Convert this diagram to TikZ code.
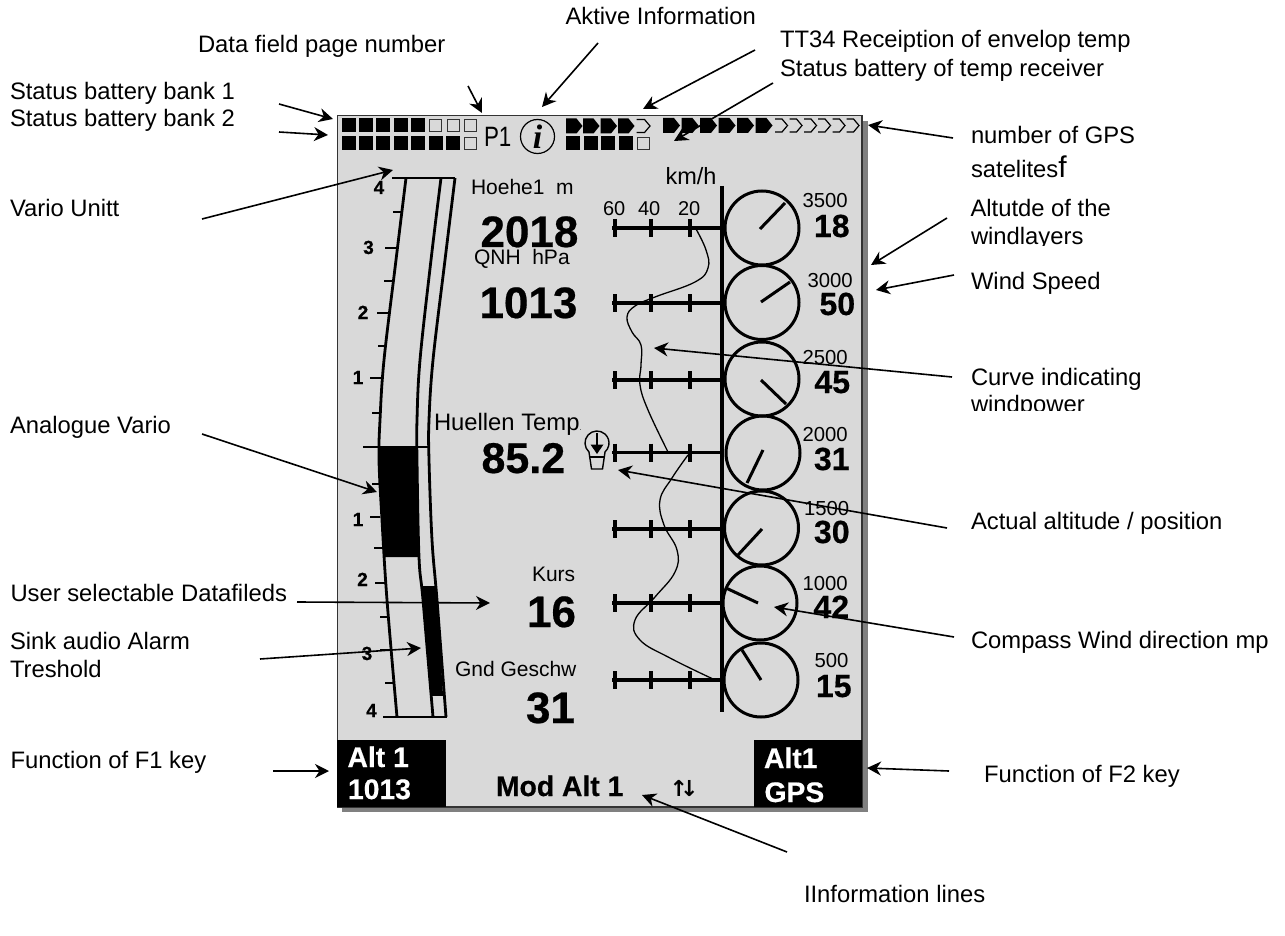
\documentclass[tikz,border=0pt]{standalone}
\usepackage{fontspec}
\setmainfont[BoldFeatures={FakeBold=0.5}]{Liberation Sans}
\newfontfamily\serifi{Liberation Serif}
\newfontfamily\arrowfont{DejaVu Sans}
\usetikzlibrary{arrows.meta}
\definecolor{lcd}{HTML}{D9D9D9}
\definecolor{shadowgray}{HTML}{808080}
\tikzset{
  txt/.style={anchor=base west,inner sep=0pt,outer sep=0pt,text=black},
  lab/.style={txt,font=\fontsize{23.8}{26}\selectfont},
  small/.style={txt,font=\fontsize{20}{22}\selectfont},
  smallb/.style={txt,font=\fontsize{21}{23}\selectfont},
  tiny/.style={txt,font=\fontsize{20.3}{22}\selectfont},
  big/.style={txt,font=\fontsize{44}{46}\selectfont\bfseries},
  mid/.style={txt,font=\fontsize{32}{34}\selectfont\bfseries},
  key/.style={txt,font=\fontsize{28.3}{30}\selectfont\bfseries},
  vnum/.style={anchor=base,inner sep=0pt,outer sep=0pt,font=\fontsize{19}{20}\selectfont\bfseries},
  thick line/.style={line width=2.8pt,black},
  callout/.style={line width=1.6pt,black,-{Stealth[length=14pt,width=14pt,inset=4.5pt]}},
  dial/.style={draw=black,line width=3pt,circle,minimum size=74pt,inner sep=0pt,outer sep=0pt},
  curve/.style={line width=1.3pt,black,smooth,tension=0.7},
  vtick/.style={line width=1.6pt,black},
  vline/.style={line width=2.8pt,smooth,tension=0.6},
}
\begin{document}
\begin{tikzpicture}[x=1pt,y=-1pt]
\useasboundingbox (0,0) rectangle (1285,936);
% display
\fill[shadowgray] (342,121) rectangle (867.5,812);
\draw[fill=lcd,draw=black!80,line width=1.2pt] (337.5,115.5) rectangle (862,807);
% status squares
\foreach \x in {341.5,358.5,376,393.5,411} \fill (\x,118.5) rectangle ++(14,14);
\foreach \x in {429.5,447,464.5} \draw[line width=1pt,draw=black!80] (\x,119.5) rectangle ++(12,12);
\foreach \x in {341.5,358.5,376,393.5,411,428.5,446} \fill (\x,136.5) rectangle ++(14,14);
\draw[line width=1pt,draw=black!80] (464.5,137.5) rectangle ++(12,12);
\foreach \x in {566,583,600.5,618} \fill (\x,118.5) -- ++(10.5,0) -- ++(6,7.5) -- ++(-6,7.5) -- ++(-10.5,0) -- cycle;
\draw[line width=1.2pt] (636.5,119.5) -- ++(8,0) -- ++(5.5,6.5) -- ++(-5.5,6.5) -- ++(-8,0);
\foreach \x in {566,583.5,601,618.5} \fill (\x,136.5) rectangle ++(14,14);
\draw[line width=1pt,draw=black!80] (637,137.5) rectangle ++(12,12);
\foreach \x in {663,681.5,700,718.5,737,755.5} \fill (\x,118) -- ++(11,0) -- ++(6,7.5) -- ++(-6,7.5) -- ++(-11,0) -- cycle;
\foreach \x in {775,789.5,804,818,832.5,846.5} \draw[line width=1.2pt] (\x,119) -- ++(7,0) -- ++(5.5,6.5) -- ++(-5.5,6.5) -- ++(-7,0);
\node[txt,font=\fontsize{28}{28}\selectfont] (pone) at (484,147) {\scalebox{0.8}[1]{P1}};
\node[draw=black,line width=1.2pt,circle,minimum size=34pt,inner sep=0pt,font=\fontsize{34}{34}\selectfont\serifi\bfseries\itshape] (info) at (537.5,136.5) {i};
% vario
\draw[thick line] (392,178) -- (455,178);
\draw[thick line] (383,717) -- (446.5,717);
\draw[line width=2.6pt] (363,447) -- (429,447);
\fill (379,447) -- (417,447) .. controls (417,490) and (418,530) .. (419,557) -- (385,557) .. controls (382,530) and (379,490) .. (379,447) -- cycle;
\fill (422,586) -- (436,586) -- (443,695) -- (432,695) -- cycle;
\draw[vline] plot coordinates {(406,178) (396,260) (384,360) (380,420) (379,460) (382,520) (387,600) (397,717)};
\draw[vline] plot coordinates {(441,178) (431,260) (420,360) (417,420) (417,460) (419,557) (423,600) (433,717)};
\draw[vline] plot coordinates {(455,178) (445,260) (433,360) (429,420) (429,460) (432,540) (437,600) (446,717)};
\draw[line width=2pt] (432,695) -- (443,695);
\foreach \a/\b/\y in {393/401/212,385/397/248,384/394/281,377/391/313,378/387/346,370/384/378,372/381/413,372/379/484,370/380/517,374/384/548,375/386/583,380/388/617,380/390/650,385/393/683}
  \draw[vtick] (\a,\y) -- (\b,\y);
\node[vnum] (vu4) at (379,194) {4};
\node[vnum] (vu3) at (368.5,254) {3};
\node[vnum] (vu2) at (363,319) {2};
\node[vnum] (vu1) at (358,384) {1};
\node[vnum] (vd1) at (358,526) {1};
\node[vnum] (vd2) at (362.5,586) {2};
\node[vnum] (vd3) at (367,660) {3};
\node[vnum] (vd4) at (371.5,717) {4};
% data fields
\node[smallb] (hoehe) at (471,195) {Hoehe1\ \ m};
\node[big] (valhoehe) at (480.5,247) {2018};
\node[smallb] (qnh) at (474,265) {QNH\ \ hPa};
\node[big] (valqnh) at (479.5,318) {1013};
\node[lab] (huellen) at (434,430) {Huellen Temp{\fontsize{7}{7}\selectfont .}};
\node[big,font=\fontsize{43}{45}\selectfont\bfseries] (valtemp) at (481.5,473) {85.2};
\node[smallb] (kurs) at (532,581) {Kurs};
\node[big] (valkurs) at (527,627) {16};
\node[smallb] (gnd) at (455,676) {Gnd Geschw};
\node[big] (valgnd) at (526,723) {31};
% bulb
\draw[line width=1.4pt] (597,443) ++(132:12) arc[start angle=132,end angle=408,radius=12] -- (602.5,469) -- (591.5,469) -- cycle;
\draw[line width=1.4pt] (590,457) -- (604,457);
\draw[line width=1.4pt] (597,433) -- (597,446);
\fill (590.5,444.5) -- (603.5,444.5) -- (597,454) -- cycle;
% wind axis and scales
\node[txt,font=\fontsize{23.5}{25}\selectfont] (kmh) at (665.5,185) {km/h};
\node[small] (s60) at (603,216) {60};
\node[small] (s40) at (638,216) {40};
\node[small] (s20) at (678,216) {20};
\draw[line width=3.2pt] (722,186) -- (722,712);
\foreach \y in {228,303,380,452.5,529,603,680} {
  \draw[line width=3.2pt] (612,\y) -- (722,\y);
  \foreach \x in {615,651,690} \draw[line width=3.2pt] (\x,\y-9) -- (\x,\y+9);
}
% wind curve
\draw[curve] plot coordinates {(696,229) (706,250) (708,268) (695,282) (655,297) (635,306) (627,317) (632,332) (641,345) (641,365) (640,385) (648,410) (668,452)};
\draw[curve] plot coordinates {(688,455) (672,478) (660,500) (664,525) (677,550) (675,572) (655,597) (635,620) (640,640) (670,658) (713,679)};
% dials
\node[dial] (d1) at (762,228) {};
\node[dial] (d2) at (762,302.5) {};
\node[dial] (d3) at (762,379) {};
\node[dial] (d4) at (763,453) {};
\node[dial] (d5) at (761.5,528) {};
\node[dial] (d6) at (760,603) {};
\node[dial] (d7) at (761,680) {};
\foreach \a/\b/\c/\d in {760/229/785/203,761/302/790/282,761/380/786/404,763/450/747/483,762/529/738/555,758/603/726/588,761/680/742/650}
  \draw[line width=3pt] (\a,\b) -- (\c,\d);
% layers
\node[tiny] (h1) at (802.5,208) {3500};
\node[mid] (w1) at (814,237) {18};
\node[tiny] (h2) at (807.5,287) {3000};
\node[mid] (w2) at (819.5,315) {50};
\node[tiny] (h3) at (802.5,364) {2500};
\node[mid] (w3) at (814.5,393) {45};
\node[tiny] (h4) at (802.5,441) {2000};
\node[mid] (w4) at (814,470) {31};
\node[tiny] (h5) at (804,515) {1500};
\node[mid] (w5) at (814,543) {30};
\node[tiny] (h6) at (802.5,590) {1000};
\node[mid] (w6) at (813.5,618) {42};
\node[tiny] (h7) at (814.5,667) {500};
\node[mid] (w7) at (816,697) {15};
% function keys
\fill[black] (337,739.5) rectangle (446,807);
\fill[black] (753.5,739.5) rectangle (862,807);
\node[key,text=white] (f1a) at (347.5,767) {Alt 1};
\node[key,text=white] (f1b) at (348,799) {1013};
\node[key,text=white] (f2a) at (764,768) {Alt1};
\node[key,text=white] (f2b) at (764.5,802) {GPS};
\node[key] (mod) at (496,796) {Mod Alt 1};
\node[anchor=base,inner sep=0pt,font=\fontsize{22}{24}\selectfont\arrowfont\bfseries] (updown) at (684,796) {↑\kern-8pt↓};
% outside labels
\node[lab] (l1) at (10,100) {Status battery bank 1};
\node[lab] (l2) at (10,127) {Status battery bank 2};
\node[lab] (l3) at (198,53) {Data field page number};
\node[lab] (l4) at (565.5,25) {Aktive Information};
\node[lab] (l5) at (780,48) {TT34 Receiption of envelop temp};
\node[lab] (l6) at (780,77) {Status battery of temp receiver};
\node[lab] (l7) at (971,144) {number of GPS};
\node[lab] (l8) at (971,178) {satelites{\fontsize{30}{30}\selectfont f}};
\node[lab] (l9) at (970.5,217) {Altutde of the};
\begin{scope}
  \clip (960,225) rectangle (1285,245.5);
  \node[lab] (l10) at (971,244) {windlayers};
\end{scope}
\node[lab] (l11) at (971,289) {Wind Speed};
\node[lab] (l12) at (971,385) {Curve indicating};
\begin{scope}
  \clip (960,390) rectangle (1285,410);
  \node[lab] (l13) at (971,412) {windpower};
\end{scope}
\node[lab] (l14) at (971,529) {Actual altitude / position};
\node[lab] (l15) at (971,648) {Compass Wind direction mp};
\node[lab] (l16) at (984,782) {Function of F2 key};
\node[lab] (l17) at (804,902) {IInformation lines};
\node[lab] (l18) at (10,217) {Vario Unitt};
\node[lab] (l19) at (10,433) {Analogue Vario};
\node[lab] (l20) at (10.5,601) {User selectable Datafileds};
\node[lab] (l21) at (10,649) {Sink audio Alarm};
\node[lab] (l22) at (10,677) {Treshold};
\node[lab] (l23) at (10.5,768) {Function of F1 key};
% callouts
\foreach \n/\a/\b/\c/\d in {
 st1/279/104/333/119, st2/279/132/328/135, vu/202/219/393/170, pg/468/86/482/113,
 ak/598/43/542/107, tt/755/50/643/109, tb/773/83/674/141, gp/953/138/868/125,
 al/947/218/871/265, ws/954/275/876/290, cv/952/377/654/348, ac/947/528/618/470,
 cp/954/637/774/607, fb/949/771/867/768, il/787/852/642/795, av/202/434/377/492,
 us/297/602/490/603, sk/260/659/421/648, fa/273/771/329/771} {
  \coordinate (\n from) at (\a,\b);
  \coordinate (\n to) at (\c,\d);
  \draw[callout] (\n from) -- (\n to);
}
\end{tikzpicture}
\end{document}
